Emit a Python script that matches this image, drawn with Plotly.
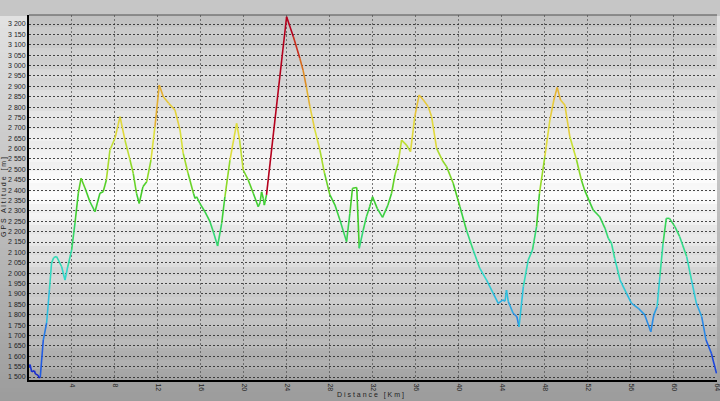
import plotly.graph_objects as go
from plotly.colors import sample_colorscale

# ---- data ----
distance_km = [0.0, 0.1, 0.25, 0.5, 0.6, 0.85, 0.95, 1.05, 1.33, 1.64, 1.9, 2.1, 2.3, 2.57, 3.04, 3.35, 3.6,
               3.97, 4.28, 4.59, 4.84, 5.21, 5.67, 6.14, 6.6, 6.9, 7.2, 7.53, 8.0, 8.47, 8.93, 9.4, 9.7, 10.0,
               10.26, 10.6, 10.95, 11.35, 11.72, 12.12, 12.5, 13.0, 13.58, 14.05, 14.35, 14.8, 15.3, 15.45, 15.6,
               15.9, 16.37, 16.84, 17.15, 17.55, 17.93, 18.23, 18.7, 19.32, 19.6, 19.93, 20.4, 20.87, 21.33, 21.5,
               21.64, 21.8, 21.9, 22.1, 23.97, 24.6, 25.2, 25.5, 25.8, 26.14, 26.6, 27.07, 27.5, 28.0, 28.47,
               28.93, 29.55, 29.86, 30.1, 30.5, 30.73, 31.1, 31.4, 31.7, 31.97, 32.4, 32.9, 33.4, 33.74, 34.05,
               34.35, 34.67, 35.13, 35.5, 35.9, 36.3, 36.7, 37.15, 37.46, 37.93, 38.5, 38.86, 39.47, 40.1, 40.7,
               41.33, 41.95, 42.58, 43.2, 43.66, 44.1, 44.3, 44.43, 44.6, 45.05, 45.4, 45.6, 46.0, 46.45, 46.85,
               47.23, 47.5, 48.0, 48.47, 48.84, 49.15, 49.46, 49.86, 50.33, 50.95, 51.4, 51.7, 52.1, 52.5, 53.1,
               53.6, 53.9, 54.2, 54.5, 55.0, 55.6, 56.07, 56.7, 57.3, 57.86, 58.14, 58.45, 58.7, 59.0, 59.3, 59.6,
               60.1, 60.55, 61.2, 61.65, 62.1, 62.6, 63.0, 63.5, 63.97]
altitude_m = [1545, 1560, 1525, 1530, 1515, 1508, 1495, 1500, 1678, 1760, 1920, 2049, 2075, 2080, 2031, 1967, 2030,
              2112, 2242, 2386, 2457, 2410, 2344, 2296, 2385, 2392, 2449, 2593, 2650, 2754, 2641, 2545, 2481, 2385,
              2336, 2416, 2440, 2545, 2705, 2906, 2850, 2818, 2786, 2690, 2577, 2481, 2385, 2360, 2368,
              2336, 2296, 2248, 2200, 2131, 2240, 2368, 2545, 2722, 2641, 2497, 2449, 2385, 2320, 2340,
              2392, 2360, 2328, 2377, 3235, 3139, 3035, 2978, 2900, 2802, 2690, 2593, 2481, 2377, 2328,
              2256, 2152, 2288, 2409, 2413, 2120, 2208, 2272, 2320, 2368, 2312, 2269, 2328, 2385, 2473,
              2529, 2641, 2617, 2585, 2754, 2858, 2834, 2802, 2754, 2601, 2540, 2513, 2433, 2320, 2208,
              2112, 2023, 1967, 1903, 1855, 1871, 1865, 1919, 1863, 1807, 1790, 1742, 1935, 2063, 2112,
              2224, 2385, 2561, 2738, 2834, 2895, 2834, 2810, 2657, 2545, 2449, 2400, 2352, 2304, 2272,
              2216, 2168, 2144, 2072, 1967, 1903, 1855, 1831, 1799, 1718, 1799, 1839, 1983, 2144, 2264, 2264,
              2224, 2176, 2080, 1967, 1855, 1790, 1678, 1614, 1518]
x_tick_values = list(range(4, 65, 4))
y_tick_values = list(range(1500, 3201, 50))
x_title = "D i s t a n c e   [ K m ]"
y_title = "G P S   A l t i t u d e   [ m ]"

# ---- styling ----
ALT_MIN, ALT_MAX = 1490, 3240
stops = [(1490, "rgb(20,30,200)"), (1650, "rgb(30,80,225)"), (1780, "rgb(40,130,230)"),
         (1900, "rgb(45,185,225)"), (2020, "rgb(50,215,205)"), (2150, "rgb(50,220,150)"),
         (2280, "rgb(55,210,80)"), (2420, "rgb(70,205,40)"), (2560, "rgb(150,218,40)"),
         (2700, "rgb(220,225,60)"), (2850, "rgb(232,200,60)"), (2950, "rgb(225,155,40)"),
         (3050, "rgb(215,100,30)"), (3150, "rgb(200,40,30)"), (3240, "rgb(180,0,30)")]
cscale = [[(a - ALT_MIN) / (ALT_MAX - ALT_MIN), c] for a, c in stops]

W, H = 720, 401
L, R, T, B = 29, 3, 15, 21
PW, PH = W - L - R, H - T - B
X_MAX = 64.02

def px2paper_x(px):
    return (px - L) / PW

def py2paper_y(py):
    return (H - B - py) / PH

def gray(v):
    v = int(max(0, min(255, round(v))))
    return f"rgb({v},{v},{v})"

shapes = []
# outer gradient
step = 4
for py in range(0, H, step):
    mid = py + step / 2
    if mid < T:
        v = 198
    else:
        v = 226 - (mid - T) * (226 - 156) / (H - T)
    shapes.append(dict(type="rect", xref="paper", yref="paper", layer="below",
                       x0=px2paper_x(0), x1=px2paper_x(W), y0=py2paper_y(py + step), y1=py2paper_y(py),
                       fillcolor=gray(v), line=dict(width=0)))
# inner plot-area gradient
step = 3
for py in range(T, H - B, step):
    mid = py + step / 2
    if mid < 190:
        v = 195 + (mid - T) * (252 - 195) / (190 - T)
    else:
        v = 252 - (mid - 190) * (252 - 166) / (H - B - 190)
    band = int((H - B - mid) / 10.4) % 2
    v += 3 if band else -3
    shapes.append(dict(type="rect", xref="paper", yref="paper", layer="below",
                       x0=0, x1=1, y0=py2paper_y(min(py + step, H - B)), y1=py2paper_y(py),
                       fillcolor=gray(v), line=dict(width=0)))
# top border line
shapes.append(dict(type="line", xref="paper", yref="paper", x0=0, x1=1, y0=1, y1=1,
                   line=dict(color="rgb(80,80,80)", width=1)))

fig = go.Figure()
for i in range(len(distance_km) - 1):
    seg_alt = max(altitude_m[i], altitude_m[i + 1])
    t = (seg_alt - ALT_MIN) / (ALT_MAX - ALT_MIN)
    col = sample_colorscale(cscale, [min(max(t, 0), 1)])[0]
    fig.add_trace(go.Scatter(x=distance_km[i:i + 2], y=altitude_m[i:i + 2], mode="lines",
                             line=dict(color=col, width=1.6), showlegend=False, hoverinfo="skip"))

tick_font = dict(family="Liberation Sans", size=7, color="rgb(30,30,30)")
title_font = dict(family="Liberation Sans", size=7, color="rgb(30,30,30)")
fig.update_layout(
    width=W, height=H,
    margin=dict(l=L, r=R, t=T, b=B, pad=0),
    paper_bgcolor="rgb(190,190,190)",
    plot_bgcolor="rgba(0,0,0,0)",
    separators=". ",
    shapes=shapes,
    xaxis=dict(range=[0, X_MAX], tickvals=x_tick_values, ticktext=[str(v) for v in x_tick_values],
               tickangle=90, tickfont=tick_font, ticklabeloverflow="allow", showgrid=True,
               griddash="2px,2px", gridcolor="rgba(90,90,90,0.8)", gridwidth=1, zeroline=False,
               automargin=False, showline=True, linecolor="black", linewidth=2, ticks="", fixedrange=True),
    yaxis=dict(range=[1485.6, 3243.4], tickvals=y_tick_values, tickformat=",d", tickfont=tick_font,
               showgrid=True, griddash="2px,2px", gridcolor="rgba(40,40,40,0.85)", gridwidth=1,
               zeroline=False, automargin=False, showline=True, linecolor="black", linewidth=2,
               ticks="", fixedrange=True),
    annotations=[
        dict(text=x_title, xref="paper", yref="paper", x=px2paper_x(370), y=py2paper_y(395),
             xanchor="center", yanchor="middle", showarrow=False, font=title_font),
        dict(text=y_title, xref="paper", yref="paper", x=px2paper_x(3.5), y=0.5, textangle=-90,
             xanchor="center", yanchor="middle", showarrow=False, font=title_font),
    ],
)
fig.write_html("out.html", config={"displayModeBar": False},
               post_script="document.body.style.margin='0';document.body.style.overflow='hidden';")
